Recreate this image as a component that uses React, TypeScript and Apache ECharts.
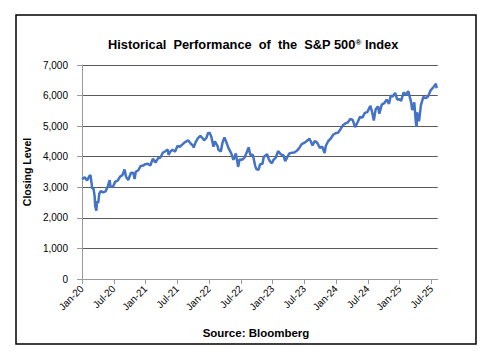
import React, { useEffect, useRef } from "react";
import * as echarts from "echarts";

const dates: string[] = [
  "2020-01-02","2020-01-17","2020-01-31","2020-02-14","2020-02-19","2020-02-28","2020-03-06","2020-03-13","2020-03-16","2020-03-23","2020-03-27","2020-04-03","2020-04-09","2020-04-17","2020-05-01","2020-05-15","2020-05-29","2020-06-08","2020-06-12","2020-06-26","2020-07-10","2020-07-24","2020-08-07","2020-08-21","2020-09-02","2020-09-11","2020-09-23","2020-10-09","2020-10-23","2020-10-30","2020-11-06","2020-11-20","2020-12-04","2020-12-18","2020-12-31",
  "2021-01-15","2021-01-29","2021-02-12","2021-02-26","2021-03-12","2021-03-26","2021-04-09","2021-04-23","2021-05-07","2021-05-12","2021-05-21","2021-06-04","2021-06-18","2021-07-02","2021-07-16","2021-07-30","2021-08-13","2021-08-27","2021-09-02","2021-09-17","2021-10-01","2021-10-04","2021-10-15","2021-10-29","2021-11-12","2021-11-26","2021-12-03","2021-12-17","2021-12-27","2021-12-31",
  "2022-01-03","2022-01-14","2022-01-27","2022-02-04","2022-02-18","2022-02-23","2022-03-08","2022-03-18","2022-03-29","2022-04-08","2022-04-22","2022-05-06","2022-05-20","2022-06-03","2022-06-16","2022-06-24","2022-07-08","2022-07-22","2022-08-05","2022-08-16","2022-08-26","2022-09-09","2022-09-23","2022-09-30","2022-10-12","2022-10-21","2022-11-04","2022-11-11","2022-11-30","2022-12-09","2022-12-16","2022-12-28",
  "2023-01-06","2023-01-20","2023-02-02","2023-02-17","2023-03-03","2023-03-13","2023-03-24","2023-04-06","2023-04-21","2023-05-05","2023-05-19","2023-06-02","2023-06-16","2023-06-30","2023-07-14","2023-07-31","2023-08-11","2023-08-18","2023-09-01","2023-09-15","2023-09-29","2023-10-13","2023-10-27","2023-11-03","2023-11-17","2023-12-01","2023-12-15","2023-12-29",
  "2024-01-12","2024-01-26","2024-02-09","2024-02-23","2024-03-08","2024-03-22","2024-04-05","2024-04-19","2024-05-03","2024-05-17","2024-05-31","2024-06-14","2024-06-28","2024-07-16","2024-07-26","2024-08-05","2024-08-16","2024-08-30","2024-09-06","2024-09-20","2024-10-04","2024-10-18","2024-11-01","2024-11-11","2024-11-22","2024-12-06","2024-12-18","2024-12-31",
  "2025-01-10","2025-01-24","2025-02-07","2025-02-19","2025-03-07","2025-03-13","2025-03-25","2025-04-04","2025-04-08","2025-04-09","2025-04-21","2025-05-02","2025-05-16","2025-05-30","2025-06-13","2025-06-27","2025-07-11","2025-07-28","2025-08-01"
];

const closes: number[] = [
  3258,3330,3226,3380,3386,2954,2972,2711,2386,2237,2541,2489,2790,2875,2831,2864,3044,3232,3041,3009,3185,3216,3351,3397,3580,3341,3237,3477,3465,3270,3509,3557,3699,3709,3756,
  3768,3714,3934,3811,3943,3975,4129,4180,4232,4063,4156,4230,4166,4352,4327,4395,4468,4509,4537,4433,4357,4300,4471,4605,4682,4595,4538,4620,4791,4766,
  4797,4662,4326,4500,4349,4225,4170,4463,4632,4488,4272,4123,3901,4108,3667,3912,3899,3962,4145,4305,4058,4067,3693,3586,3577,3752,3771,3993,4080,3934,3852,3783,
  3895,3973,4180,4079,4046,3855,3971,4105,4133,4136,4192,4282,4410,4450,4505,4589,4464,4370,4516,4450,4288,4327,4117,4358,4514,4595,4719,4770,
  4784,4891,5027,5089,5124,5234,5204,4967,5128,5303,5278,5432,5460,5667,5459,5186,5554,5648,5408,5703,5751,5865,5729,6001,5969,6090,5872,5882,
  5827,6101,6026,6144,5770,5522,5777,5074,4983,5457,5158,5687,5958,5912,5977,6173,6260,6390,6238
];

const xTickLabels: string[] = [
  "Jan-20","Jul-20","Jan-21","Jul-21","Jan-22","Jul-22","Jan-23","Jul-23","Jan-24","Jul-24","Jan-25","Jul-25"
];

const yTickValues: number[] = [0, 1000, 2000, 3000, 4000, 5000, 6000, 7000];

const FONT = "Liberation Sans, Arial, sans-serif";

function toMonths(d: string): number {
  const [y, m, day] = d.split("-").map(Number);
  const dim = new Date(y, m, 0).getDate();
  return (y - 2020) * 12 + (m - 1) + (day - 1) / dim;
}

export default function App() {
  const ref = useRef<HTMLDivElement>(null);
  useEffect(() => {
    if (!ref.current) return;
    const chart = echarts.init(ref.current, null, { renderer: "svg" });
    const tickVals = xTickLabels.map((_, i) => i * 6);
    chart.setOption({
      animation: false,
      backgroundColor: "#ffffff",
      title: {
        text: "{t|Historical  Performance  of  the  S&P 500}{s|®}{t| Index}",
        left: 103,
        top: 33,
        textStyle: {
          rich: {
            t: { fontSize: 12.8, fontWeight: "bold", fontFamily: FONT, color: "#000" },
            s: { fontSize: 8, fontWeight: "bold", fontFamily: FONT, color: "#000", verticalAlign: "top" },
          },
        },
      },
      grid: { left: 82, right: 48.3, top: 65, bottom: 77 },
      xAxis: {
        type: "value",
        min: 0,
        max: 67.2,
        interval: 6,
        splitLine: { show: false },
        axisLine: { show: true, lineStyle: { color: "#999", width: 1 } },
        axisTick: { show: true, length: 5, customValues: tickVals, lineStyle: { color: "#999" } },
        axisLabel: {
          customValues: tickVals,
          rotate: 45,
          margin: 8,
          fontSize: 10,
          fontFamily: FONT,
          color: "#000",
          formatter: (v: number) => xTickLabels[Math.round(v / 6)] ?? "",
        },
      },
      yAxis: {
        type: "value",
        min: 0,
        max: 7000,
        interval: 1000,
        name: "Closing Level",
        nameLocation: "middle",
        nameRotate: 90,
        nameGap: 41,
        nameTextStyle: { fontSize: 10.5, fontWeight: "bold", fontFamily: FONT, color: "#000" },
        axisLine: { show: true, lineStyle: { color: "#999", width: 1 } },
        axisTick: { show: true, length: 5, lineStyle: { color: "#999" } },
        axisLabel: {
          margin: 14,
          fontSize: 10,
          fontFamily: FONT,
          color: "#000",
          customValues: yTickValues,
          formatter: (v: number) => v.toLocaleString("en-US"),
        },
        splitLine: { show: true, lineStyle: { color: "#5a5a5a", width: 1 } },
      },
      graphic: [
        {
          type: "rect",
          shape: { x: 16, y: 15, width: 460, height: 329 },
          style: { fill: "none", stroke: "#000", lineWidth: 1.5 },
          silent: true,
        },
        {
          type: "text",
          x: 256,
          y: 333,
          style: {
            text: "Source: Bloomberg",
            fontSize: 11.5,
            fontWeight: "bold",
            fontFamily: FONT,
            fill: "#000",
            align: "center",
            verticalAlign: "middle",
          },
        },
      ],
      series: [
        {
          type: "line",
          showSymbol: false,
          data: dates.map((d, i) => [toMonths(d), closes[i]]),
          lineStyle: { color: "#4472C4", width: 2.5 },
          itemStyle: { color: "#4472C4" },
        },
      ],
    });
    return () => chart.dispose();
  }, []);
  return (
    <div
      ref={ref}
      style={{ position: "fixed", left: 0, top: 0, width: 486, height: 356 }}
    />
  );
}
